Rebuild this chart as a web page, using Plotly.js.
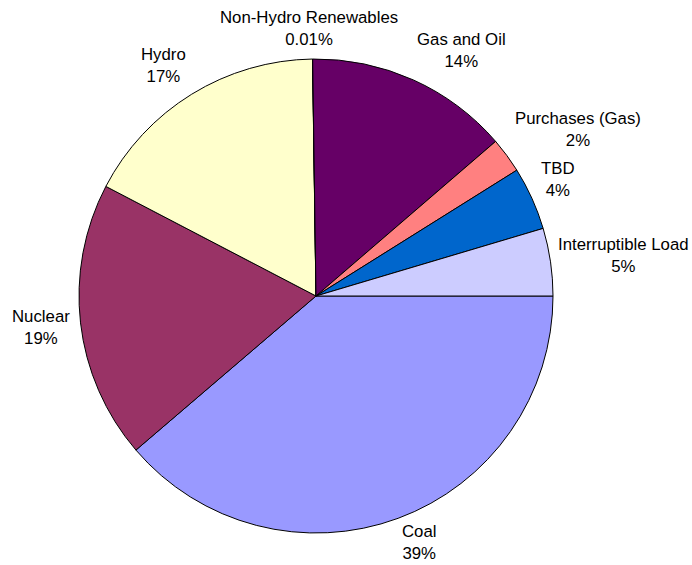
<!DOCTYPE html>
<html>
<head>
<meta charset="utf-8">
<script src="https://cdn.plot.ly/plotly-3.0.1.min.js"></script>
<style>html,body{margin:0;padding:0;background:#fff;}#chart{width:692px;height:565px;}</style>
</head>
<body>
<div id="chart"></div>
<script>
const categories = ["Coal", "Nuclear", "Hydro", "Non-Hydro Renewables", "Gas and Oil", "Purchases (Gas)", "TBD", "Interruptible Load"];
const shares = [38.7, 18.9, 17.1, 0.01, 13.9, 2.4, 4.3, 4.6];
const shareLabels = ["39%", "19%", "17%", "0.01%", "14%", "2%", "4%", "5%"];
const sliceColors = ["#9999FF", "#993366", "#FFFFCC", "#339966", "#660066", "#FF8080", "#0066CC", "#CCCCFF"];

const W = 692, H = 565;
const M = { l: 79, r: 139, t: 59, b: 32 };
const FONT_FAMILY = "Liberation Sans, Arial, sans-serif";
const FONT_SIZE = 16.8;
const ROTATION = 90;   // first slice starts at 3 o'clock, clockwise
const GAP = 10.5;      // px between pie edge and label

const trace = {
  type: "pie",
  labels: categories,
  values: shares,
  text: shareLabels,
  sort: false,
  direction: "clockwise",
  rotation: ROTATION,
  textinfo: "none",
  hoverinfo: "label+text",
  marker: { colors: sliceColors, line: { color: "#000000", width: 1 } },
  showlegend: false
};

// Excel-style outside labels: placed from each slice's mid-angle (derived from the data)
const ctx = document.createElement("canvas").getContext("2d");
ctx.font = FONT_SIZE + "px 'Liberation Sans', Arial, sans-serif";
const plotW = W - M.l - M.r, plotH = H - M.t - M.b;
const R = Math.min(plotW, plotH) / 2;
const cx = M.l + plotW / 2, cy = M.t + plotH / 2;
const total = shares.reduce((a, b) => a + b, 0);
const clamp = (v, m) => Math.max(-m, Math.min(m, v));
let cum = 0;
const annotations = categories.map((cat, i) => {
  const mid = (ROTATION + (cum + shares[i] / 2) / total * 360) * Math.PI / 180;
  cum += shares[i];
  const s = Math.sin(mid), c = Math.cos(mid);
  const w = Math.max(ctx.measureText(cat).width, ctx.measureText(shareLabels[i]).width);
  const h = 2 * 1.3 * FONT_SIZE;
  // label centre in page pixels, kept inside the page
  let px = cx + (R + GAP) * s + w / 2 * clamp(3 * s, 1);
  let py = cy - (R + GAP) * c - h / 2 * clamp(1.6 * c, 0.9);
  px = Math.max(w / 2 + 3, Math.min(W - w / 2 - 3, px));
  py = Math.max(h / 2 + 1, Math.min(H - h / 2 - 1, py));
  return {
    xref: "paper", yref: "paper",
    x: (px - M.l) / plotW,
    y: 1 - (py - M.t) / plotH,
    xanchor: "center", yanchor: "middle",
    text: cat + "<br>" + shareLabels[i],
    showarrow: false,
    align: "center",
    font: { family: FONT_FAMILY, size: FONT_SIZE, color: "#000000" }
  };
});

const layout = {
  width: W,
  height: H,
  margin: M,
  paper_bgcolor: "#ffffff",
  showlegend: false,
  font: { family: FONT_FAMILY, size: FONT_SIZE, color: "#000000" },
  annotations: annotations
};

Plotly.newPlot("chart", [trace], layout, { displayModeBar: false, staticPlot: true });
</script>
</body>
</html>
